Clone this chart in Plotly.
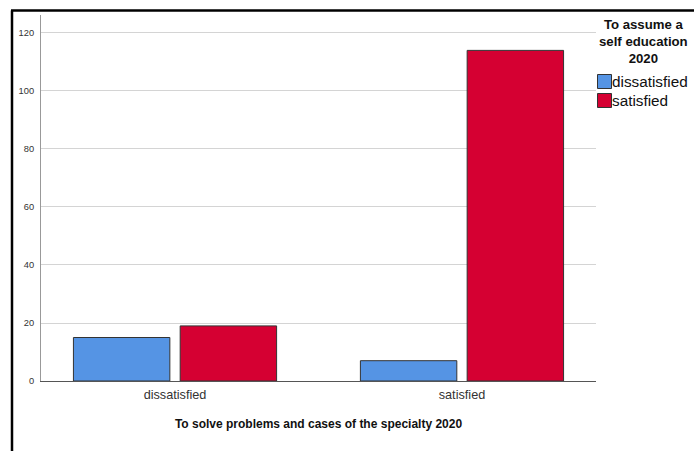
import plotly.graph_objects as go

categories = ["dissatisfied", "satisfied"]
series_names = ["dissatisfied", "satisfied"]
series_values = [
    [15, 7],    # dissatisfied (self education)
    [19, 114],  # satisfied (self education)
]
colors = ["#5594E4", "#D50032"]
y_ticks = [0, 20, 40, 60, 80, 100, 120]

x_title = "To solve problems and cases of the specialty 2020"
legend_title = "To assume a<br>self education<br>2020"

W, H = 694, 451
L, R, T, B = 41, 98, 15, 70

fig = go.Figure()
offsets = [-0.354, 0.018]
for name, vals, col, off in zip(series_names, series_values, colors, offsets):
    fig.add_trace(go.Bar(
        x=categories, y=vals, name=name,
        marker=dict(color=col, line=dict(color="#333333", width=1)),
        width=0.336, offset=off, showlegend=False,
    ))

fig.update_layout(
    width=W, height=H,
    margin=dict(l=L, r=R, t=T, b=B, pad=0),
    paper_bgcolor="white", plot_bgcolor="white",
    barmode="overlay",
    font=dict(family="Liberation Sans, Arial, sans-serif", color="#333333"),
    xaxis=dict(
        range=[-0.467, 1.467], showgrid=False, zeroline=False,
        showline=True, linecolor="#555555", linewidth=1,
        ticks="", ticklabelstandoff=2, tickfont=dict(size=12.7, color="#333333"),
        title=dict(text="<b>" + x_title + "</b>", font=dict(size=12, color="#111111"), standoff=18),
    ),
    yaxis=dict(
        range=[0, 126.2], tickvals=y_ticks, showgrid=True,
        gridcolor="#D4D4D4", gridwidth=1, zeroline=False,
        showline=True, linecolor="#999999", linewidth=1,
        ticks="", ticklabelstandoff=4,
        tickfont=dict(size=9.3, color="#333333"),
    ),
)

pw, ph = W - L - R, H - T - B
def px_x(x):
    return (x - L) / pw
def px_y(y):
    return (H - B - y) / ph

# Outer frame (left and top black borders of the original screenshot)
fig.add_shape(type="line", xref="paper", yref="paper",
              x0=px_x(12), x1=px_x(12), y0=px_y(H + 2), y1=px_y(10.5),
              line=dict(color="black", width=2.5))
fig.add_shape(type="line", xref="paper", yref="paper",
              x0=px_x(11), x1=px_x(W + 2), y0=px_y(10.5), y1=px_y(10.5),
              line=dict(color="black", width=2.5))

# Custom legend
fig.add_annotation(text="<b>" + legend_title + "</b>", xref="paper", yref="paper",
                   x=px_x(643), y=px_y(42), xanchor="center", yanchor="middle",
                   showarrow=False, align="center", borderpad=0,
                   font=dict(size=13.2, color="#111111"))
item_y = [81.5, 100.5]
for name, col, yc in zip(series_names, colors, item_y):
    fig.add_shape(type="rect", xref="paper", yref="paper",
                  x0=px_x(597.5), x1=px_x(611.5), y0=px_y(yc + 7), y1=px_y(yc - 7),
                  fillcolor=col, line=dict(color="#333333", width=1))
    fig.add_annotation(text=name, xref="paper", yref="paper",
                       x=px_x(611), y=px_y(yc), xanchor="left", yanchor="middle",
                       showarrow=False, borderpad=0, font=dict(size=15.3, color="#111111"))

fig.write_html("out.html", config={"displayModeBar": False},
               post_script="document.body.style.margin='0px';document.body.style.overflow='hidden';")
